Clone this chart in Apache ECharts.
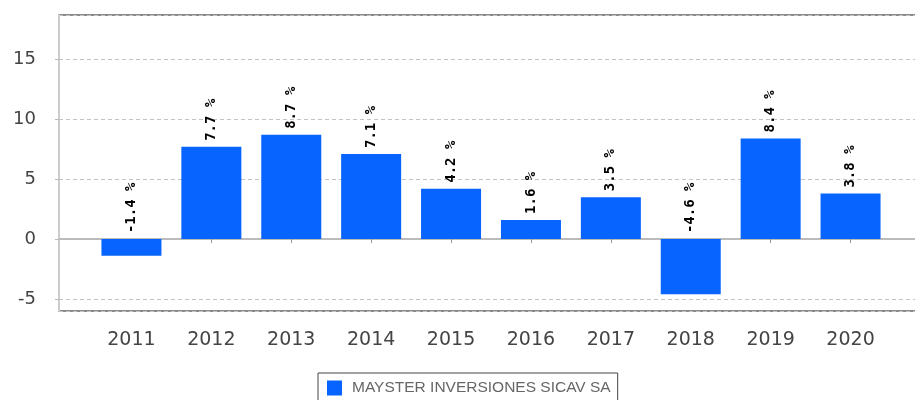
<!DOCTYPE html>
<html>
<head>
<meta charset="utf-8">
<script src="https://cdn.jsdelivr.net/npm/echarts@6/dist/echarts.min.js"></script>
<style>
html, body { margin: 0; padding: 0; background: #fff; }
#chart { width: 915px; height: 400px; }
</style>
</head>
<body>
<div id="chart"></div>
<script>
var years = ['2011', '2012', '2013', '2014', '2015', '2016', '2017', '2018', '2019', '2020'];
var returns = [-1.4, 7.7, 8.7, 7.1, 4.2, 1.6, 3.5, -4.6, 8.4, 3.8];
var seriesName = 'MAYSTER INVERSIONES SICAV SA';
var yMin = -6;
var yMax = 18.7;

var chart = echarts.init(document.getElementById('chart'));

var option = {
    animation: false,
    grid: [{
        // marco exterior con rejilla
        left: 59, top: 15, right: -10, bottom: 89,
        show: true, borderColor: '#8a8a8a', borderWidth: 2, backgroundColor: '#fff',
        outerBoundsMode: 'none'
    }, {
        // zona de las barras
        left: 91.5, top: 15, width: 799, bottom: 89,
        outerBoundsMode: 'none'
    }],
    legend: {
        data: [seriesName],
        left: 318, top: 373,
        padding: [7, 7, 7, 9],
        itemWidth: 15, itemHeight: 15,
        borderColor: '#444', borderWidth: 1,
        icon: 'rect',
        textStyle: { color: '#666', fontSize: 15.5, fontFamily: 'Liberation Sans', padding: [0, 0, 0, 5] }
    },
    xAxis: [{
        type: 'value', gridIndex: 0, min: 0, max: 1,
        offset: 8,
        axisLine: { show: true, lineStyle: { color: '#bbb', width: 2 } },
        axisTick: { show: false }, axisLabel: { show: false }, splitLine: { show: false }
    }, {
        type: 'category', gridIndex: 1, data: years,
        offset: 8,
        axisLine: { show: false },
        axisTick: { show: true, alignWithLabel: true, length: 4, lineStyle: { color: '#999' } },
        axisLabel: { color: '#444', fontSize: 19, fontFamily: 'DejaVu Sans', margin: 12 }
    }],
    yAxis: [{
        type: 'value', gridIndex: 0, min: yMin, max: yMax, splitNumber: 5,
        offset: 9,
        axisLine: { show: true, lineStyle: { color: '#ccc', width: 2 } },
        axisTick: { show: true, length: 4, lineStyle: { color: '#bbb' } },
        axisLabel: { color: '#444', fontSize: 18, fontFamily: 'DejaVu Sans', margin: 14, showMinLabel: false, showMaxLabel: false },
        splitLine: { show: true, lineStyle: { color: '#c4c4c4', type: [4, 3], width: 1 } }
    }, {
        type: 'value', gridIndex: 1, min: yMin, max: yMax, show: false, splitLine: { show: false }
    }],
    series: [{
        type: 'bar',
        name: seriesName,
        xAxisIndex: 1, yAxisIndex: 1,
        data: returns,
        barWidth: 60,
        itemStyle: { color: '#0764ff' },
        label: {
            show: true,
            position: 'top',
            rotate: 90,
            align: 'left',
            verticalAlign: 'middle',
            distance: 6,
            color: '#000',
            fontSize: 14,
            fontWeight: 'bold',
            fontFamily: 'DejaVu Sans Mono',
            formatter: function (p) { return p.value + ' %'; }
        }
    }]
};

chart.setOption(option);
</script>
</body>
</html>
